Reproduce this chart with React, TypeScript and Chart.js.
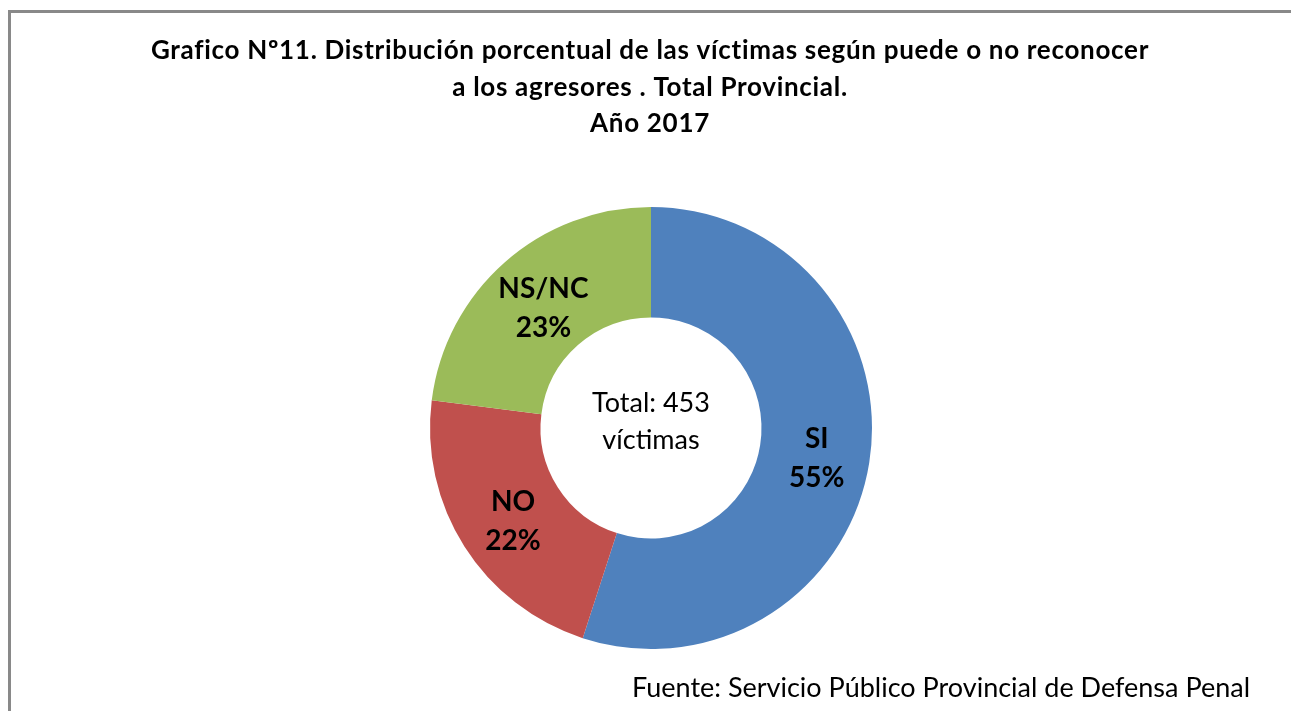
import React, { useEffect, useRef } from "react";
import { Chart, registerables } from "chart.js";

Chart.register(...registerables);

const categories = ["SI", "NO", "NS/NC"];
const percentages = [55, 22, 23];
const colors = ["#4F81BD", "#C0504D", "#9BBB59"];
const titleLines = [
  "Grafico Nº11. Distribución porcentual de las víctimas según puede o no reconocer",
  "a los agresores . Total Provincial.",
  "Año 2017",
];
const centerLines = ["Total: 453", "víctimas"];
const sourceText = "Fuente: Servicio Público Provincial de Defensa Penal";

const FONT = "Lato, 'Open Sans', sans-serif";

const decorPlugin = {
  id: "decor",
  beforeDraw(chart: any) {
    const ctx = chart.ctx;
    ctx.save();
    ctx.fillStyle = "#ffffff";
    ctx.fillRect(0, 0, chart.width, chart.height);
    ctx.strokeStyle = "#898989";
    ctx.lineWidth = 3;
    ctx.beginPath();
    ctx.moveTo(9.5, chart.height + 5);
    ctx.lineTo(9.5, 11.5);
    ctx.lineTo(chart.width + 5, 11.5);
    ctx.stroke();
    ctx.restore();
  },
  afterDraw(chart: any) {
    const ctx = chart.ctx;
    ctx.save();
    ctx.fillStyle = "#000000";
    ctx.textAlign = "center";
    ctx.textBaseline = "middle";
    // title
    ctx.font = `bold 26px ${FONT}`;
    (ctx as any).letterSpacing = "0.7px";
    const titleY = [51, 88, 124];
    titleLines.forEach((t, i) => ctx.fillText(t, 650, titleY[i]));
    (ctx as any).letterSpacing = "0px";
    // slice labels
    const meta = chart.getDatasetMeta(0);
    ctx.font = `bold 28px ${FONT}`;
    meta.data.forEach((arc: any, i: number) => {
      const p = arc.tooltipPosition();
      ctx.fillText(categories[i], p.x + 2, p.y - 15);
      ctx.fillText(percentages[i] + "%", p.x + 2, p.y + 24);
    });
    // center
    const c = meta.data[0];
    ctx.font = `27px ${FONT}`;
    ctx.fillText(centerLines[0], c.x, c.y - 25);
    ctx.fillText(centerLines[1], c.x, c.y + 12);
    // source
    ctx.textAlign = "right";
    ctx.fillText(sourceText, 1250, 688);
    ctx.restore();
  },
};

export default function App() {
  const ref = useRef<HTMLCanvasElement>(null);
  useEffect(() => {
    if (!ref.current) return;
    const chart = new Chart(ref.current, {
      type: "doughnut",
      data: {
        labels: categories,
        datasets: [
          {
            data: percentages,
            backgroundColor: colors,
            borderWidth: 0,
          },
        ],
      },
      options: {
        responsive: false,
        animation: false,
        cutout: "50%",
        layout: { padding: { top: 207, bottom: 62, left: 200, right: 189 } },
        plugins: {
          legend: { display: false },
          title: { display: false },
          tooltip: { enabled: false },
        },
      },
      plugins: [decorPlugin],
    });
    return () => chart.destroy();
  }, []);
  return (
    <canvas
      ref={ref}
      width={1291}
      height={711}
      style={{ position: "absolute", left: 0, top: 0, width: 1291, height: 711 }}
    />
  );
}
